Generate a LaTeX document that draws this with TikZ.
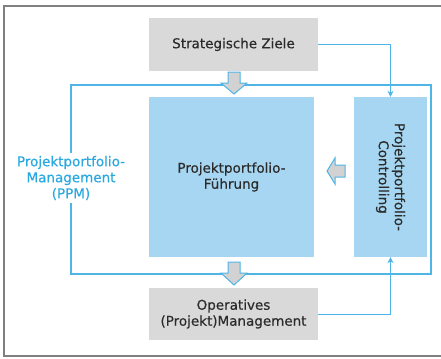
\documentclass[tikz,border=0pt]{standalone}
\usepackage{fontspec}
\setmainfont{DejaVu Sans}[FakeBold=0.4]
\definecolor{lineblue}{HTML}{4FB4E6}
\definecolor{boxblue}{HTML}{A6D6F2}
\definecolor{boxgray}{HTML}{D9D9D9}
\definecolor{txtgray}{HTML}{2B2B2B}
\definecolor{ppmblue}{HTML}{2AA8E0}
\definecolor{framegray}{HTML}{808080}
\definecolor{arrgray}{HTML}{D2D2D2}
\tikzset{
  txt/.style={font=\fontsize{13.5bp}{16bp}\selectfont, text=txtgray, align=center, inner sep=0pt},
  graybox/.style={txt, fill=boxgray, draw=none},
  bluebox/.style={txt, fill=boxblue, draw=none},
  conn/.style={draw=lineblue, line width=1bp, -{Stealth[length=6bp,width=6bp]}},
  blockarrow/.style={fill=arrgray, draw=lineblue, line width=1bp, line join=miter},
}
\usetikzlibrary{arrows.meta}
\begin{document}
\begin{tikzpicture}[x=1bp,y=-1bp]
\useasboundingbox (0,0) rectangle (441,358);
% outer frame
\draw[framegray, line width=1.5bp] (4,6) rectangle (445,356);
% PPM frame
\node[draw=lineblue, line width=1.5bp, minimum width=360bp, minimum height=189bp, inner sep=0pt] (ppm) at (251,179.5) {};
\node[txt, text=ppmblue, fill=white, inner ysep=3bp, inner xsep=0pt] (ppmlabel) at (71,178) {Projektportfolio-\\Management\\(PPM)};
% boxes
\node[graybox, minimum width=169bp, minimum height=53bp] (sz) at (233.5,44.5) {Strategische Ziele};
\node[bluebox, minimum width=165bp, minimum height=160bp] (fu) at (231.5,177) {Projektportfolio-\\Führung};
\node[bluebox, minimum width=73bp, minimum height=160bp] (co) at (390.5,177) {};
\node[txt, rotate=-90] (cotext) at (co.center) {Projektportfolio-\\Controlling};
\node[graybox, minimum width=169bp, minimum height=52bp] (op) at (233.5,314) {Operatives\\(Projekt)Management};
% connectors
\draw[conn] (sz.east) -| (co.north);
\draw[conn] (op.east) -| (co.south);
% block arrows
\draw[blockarrow] (228,72) -- (240,72) -- (240,83) -- (247,83) -- (234,94) -- (221,83) -- (228,83) -- cycle;
\draw[blockarrow] (228,262) -- (240,262) -- (240,273) -- (247,273) -- (234,285) -- (221,273) -- (228,273) -- cycle;
\draw[blockarrow] (345,165) -- (345,177) -- (335,177) -- (335,184) -- (327,171) -- (335,158) -- (335,165) -- cycle;
\end{tikzpicture}
\end{document}
